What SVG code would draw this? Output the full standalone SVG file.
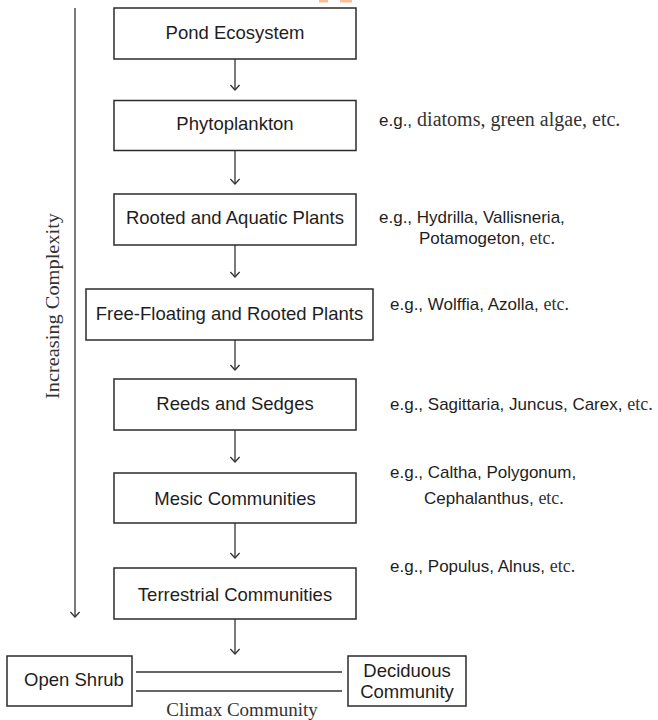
<svg xmlns="http://www.w3.org/2000/svg" width="658" height="720" viewBox="0 0 658 720">
  <style>
    .box { fill: #ffffff; stroke: #2b2b2b; stroke-width: 1.5; }
    .lbl { font-family: "Liberation Sans", Arial, sans-serif; font-size: 18.5px; fill: #1e1e1e; text-anchor: middle; }
    .ex { font-family: "Liberation Sans", Arial, sans-serif; font-size: 17px; fill: #1e1e1e; }
    .ser { font-family: "Liberation Serif", "Times New Roman", serif; fill: #333333; }
    .conn { stroke: #333333; stroke-width: 1.3; fill: none; }
  </style>
  <defs>
    <marker id="chev" viewBox="-6.5 -6 8 12" markerWidth="8" markerHeight="12" refX="0" refY="0" orient="auto" markerUnits="userSpaceOnUse">
      <path d="M-5,-4.6 L0,0 L-5,4.6" fill="none" stroke="#333333" stroke-width="1.3"/>
    </marker>
  </defs>

  <rect x="0" y="0" width="658" height="720" fill="#ffffff"/>

  <!-- heading fragment at the top edge -->
  <rect x="319" y="0" width="9" height="2.5" fill="#f7bf98"/>
  <rect x="340" y="0" width="12" height="2.5" fill="#f7bf98"/>

  <!-- connectors -->
  <g id="connectors">
    <line class="conn" x1="75" y1="8" x2="75" y2="617" marker-end="url(#chev)"/>
    <line class="conn" x1="235" y1="59" x2="235" y2="90" marker-end="url(#chev)"/>
    <line class="conn" x1="235" y1="151" x2="235" y2="184" marker-end="url(#chev)"/>
    <line class="conn" x1="235" y1="245" x2="235" y2="277" marker-end="url(#chev)"/>
    <line class="conn" x1="235" y1="340" x2="235" y2="370" marker-end="url(#chev)"/>
    <line class="conn" x1="235" y1="430" x2="235" y2="462" marker-end="url(#chev)"/>
    <line class="conn" x1="235" y1="523" x2="235" y2="558" marker-end="url(#chev)"/>
    <line class="conn" x1="235" y1="619" x2="235" y2="654" marker-end="url(#chev)"/>
    <line class="conn" x1="136" y1="672" x2="342" y2="672"/>
    <line class="conn" x1="136" y1="691" x2="342" y2="691"/>
  </g>

  <!-- axis label -->
  <text class="ser" font-size="19.5" text-anchor="middle" textLength="186" lengthAdjust="spacingAndGlyphs" transform="translate(59,306) rotate(-90)">Increasing Complexity</text>

  <!-- succession stages -->
  <g id="pond">
    <rect class="box" x="114" y="8" width="242" height="51"/>
    <text class="lbl" x="235" y="39">Pond Ecosystem</text>
  </g>
  <g id="phytoplankton">
    <rect class="box" x="114" y="100.5" width="242" height="50"/>
    <text class="lbl" x="235" y="130">Phytoplankton</text>
  </g>
  <g id="rooted">
    <rect class="box" x="114" y="194" width="242" height="51"/>
    <text class="lbl" x="235" y="224">Rooted and Aquatic Plants</text>
  </g>
  <g id="floating">
    <rect class="box" x="86" y="289" width="287" height="51"/>
    <text class="lbl" x="229.5" y="320">Free-Floating and Rooted Plants</text>
  </g>
  <g id="reeds">
    <rect class="box" x="114" y="379" width="242" height="51"/>
    <text class="lbl" x="235" y="410">Reeds and Sedges</text>
  </g>
  <g id="mesic">
    <rect class="box" x="114" y="473" width="242" height="50"/>
    <text class="lbl" x="235" y="505">Mesic Communities</text>
  </g>
  <g id="terrestrial">
    <rect class="box" x="114" y="568" width="242" height="51"/>
    <text class="lbl" x="235" y="601">Terrestrial Communities</text>
  </g>
  <g id="open-shrub">
    <rect class="box" x="7" y="656" width="125" height="50"/>
    <text class="lbl" x="74" y="686">Open Shrub</text>
  </g>
  <g id="deciduous">
    <rect class="box" x="348" y="656" width="118" height="50"/>
    <text class="lbl" x="407" y="677">Deciduous</text>
    <text class="lbl" x="407" y="698">Community</text>
  </g>

  <text class="ser" font-size="19" text-anchor="middle" x="242" y="716">Climax Community</text>

  <!-- examples -->
  <g id="examples">
    <text class="ex" x="379" y="126">e.g.,<tspan class="ser" font-size="20"> diatoms, green algae, etc.</tspan></text>
    <text class="ex" x="379" y="223">e.g., Hydrilla, Vallisneria,</text>
    <text class="ex" x="419" y="244">Potamogeton, <tspan class="ser" font-size="18"> etc.</tspan></text>
    <text class="ex" x="390" y="310">e.g., Wolffia, Azolla, <tspan class="ser" font-size="18">etc.</tspan></text>
    <text class="ex" x="390" y="410">e.g., Sagittaria, Juncus, Carex, <tspan class="ser" font-size="18">etc.</tspan></text>
    <text class="ex" x="390" y="478">e.g., Caltha, Polygonum,</text>
    <text class="ex" x="424" y="504">Cephalanthus, <tspan class="ser" font-size="18">etc.</tspan></text>
    <text class="ex" x="390" y="572">e.g., Populus, Alnus, <tspan class="ser" font-size="18">etc.</tspan></text>
  </g>
</svg>
